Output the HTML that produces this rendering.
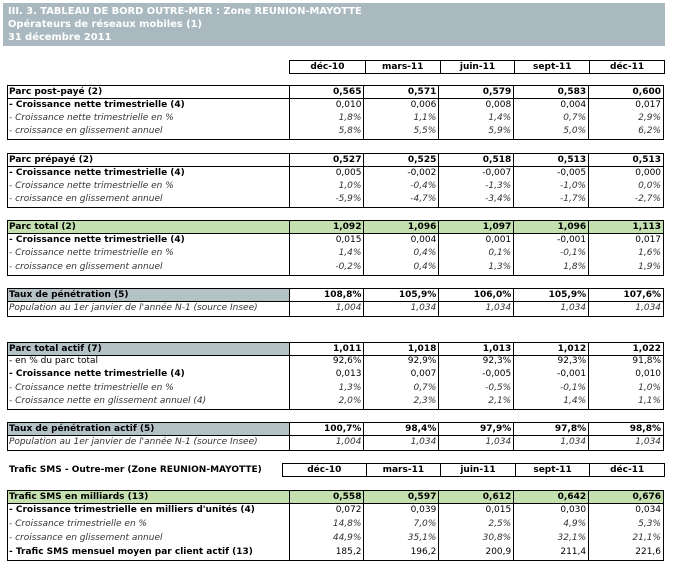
<!DOCTYPE html>
<html><head><meta charset="utf-8"><style>
body{margin:0;width:673px;height:567px;background:#fff;position:relative;overflow:hidden;font-family:"DejaVu Sans","Liberation Sans",sans-serif;font-size:9px;color:#000}
.t{position:absolute;left:3px;top:3px;width:662px;height:43px;background:#a9b9bf;color:#fff;font-weight:bold;font-size:9.9px;line-height:13px;padding-left:5px;box-sizing:border-box;padding-top:2px}
.r{position:absolute;left:7px;width:657px;height:14px;display:flex;border-right:1px solid #000;box-sizing:border-box;line-height:13px}
.r div{box-sizing:border-box;height:100%;white-space:nowrap;overflow:hidden}
.l{width:282px;border-left:1px solid #000;padding-left:1px}
.c{width:75px;border-left:1px solid #000;text-align:right;padding-right:2px}
.b{font-weight:bold;border-top:1.5px solid #000;border-bottom:1.5px solid #000}
.b div{border-left-width:1.5px}
.i{font-style:italic;color:#333}
.e{border-bottom:1.5px solid #000}
.g div{background:#c4dfb0}
.gl .l{background:#b4c2c6}
.h{position:absolute;height:14px;display:flex;font-weight:bold;border:1.5px solid #000;box-sizing:border-box;line-height:12px}
.h div{width:75px;text-align:center;border-left:1px solid #000;box-sizing:border-box}
.h div:first-child{border-left:none}
</style></head><body>
<div class="t">III. 3. TABLEAU DE BORD OUTRE-MER : Zone REUNION-MAYOTTE<br>Opérateurs de réseaux mobiles (1)<br>31 décembre 2011</div>

<div class="h" style="left:289px;top:60px;width:376px"><div>déc-10</div><div>mars-11</div><div>juin-11</div><div>sept-11</div><div>déc-11</div></div>

<div class="r b" style="top:85px"><div class="l">Parc post-payé (2)</div><div class="c">0,565</div><div class="c">0,571</div><div class="c">0,579</div><div class="c">0,583</div><div class="c">0,600</div></div>
<div class="r" style="top:99px;font-weight:bold"><div class="l">- Croissance nette trimestrielle (4)</div><div class="c" style="font-weight:normal">0,010</div><div class="c" style="font-weight:normal">0,006</div><div class="c" style="font-weight:normal">0,008</div><div class="c" style="font-weight:normal">0,004</div><div class="c" style="font-weight:normal">0,017</div></div>
<div class="r i" style="top:112px"><div class="l">- Croissance nette trimestrielle en %</div><div class="c">1,8%</div><div class="c">1,1%</div><div class="c">1,4%</div><div class="c">0,7%</div><div class="c">2,9%</div></div>
<div class="r i e" style="top:125px;height:15px"><div class="l">- croissance en glissement annuel</div><div class="c">5,8%</div><div class="c">5,5%</div><div class="c">5,9%</div><div class="c">5,0%</div><div class="c">6,2%</div></div>

<div class="r b" style="top:153px"><div class="l">Parc prépayé (2)</div><div class="c">0,527</div><div class="c">0,525</div><div class="c">0,518</div><div class="c">0,513</div><div class="c">0,513</div></div>
<div class="r" style="top:167px;font-weight:bold"><div class="l">- Croissance nette trimestrielle (4)</div><div class="c" style="font-weight:normal">0,005</div><div class="c" style="font-weight:normal">-0,002</div><div class="c" style="font-weight:normal">-0,007</div><div class="c" style="font-weight:normal">-0,005</div><div class="c" style="font-weight:normal">0,000</div></div>
<div class="r i" style="top:180px"><div class="l">- Croissance nette trimestrielle en %</div><div class="c">1,0%</div><div class="c">-0,4%</div><div class="c">-1,3%</div><div class="c">-1,0%</div><div class="c">0,0%</div></div>
<div class="r i e" style="top:193px;height:15px"><div class="l">- croissance en glissement annuel</div><div class="c">-5,9%</div><div class="c">-4,7%</div><div class="c">-3,4%</div><div class="c">-1,7%</div><div class="c">-2,7%</div></div>

<div class="r b g" style="top:220px"><div class="l">Parc total (2)</div><div class="c">1,092</div><div class="c">1,096</div><div class="c">1,097</div><div class="c">1,096</div><div class="c">1,113</div></div>
<div class="r" style="top:234px;font-weight:bold"><div class="l">- Croissance nette trimestrielle (4)</div><div class="c" style="font-weight:normal">0,015</div><div class="c" style="font-weight:normal">0,004</div><div class="c" style="font-weight:normal">0,001</div><div class="c" style="font-weight:normal">-0,001</div><div class="c" style="font-weight:normal">0,017</div></div>
<div class="r i" style="top:247px"><div class="l">- Croissance nette trimestrielle en %</div><div class="c">1,4%</div><div class="c">0,4%</div><div class="c">0,1%</div><div class="c">-0,1%</div><div class="c">1,6%</div></div>
<div class="r i e" style="top:261px;height:15px"><div class="l">- croissance en glissement annuel</div><div class="c">-0,2%</div><div class="c">0,4%</div><div class="c">1,3%</div><div class="c">1,8%</div><div class="c">1,9%</div></div>

<div class="r b gl" style="top:288px"><div class="l">Taux de pénétration (5)</div><div class="c">108,8%</div><div class="c">105,9%</div><div class="c">106,0%</div><div class="c">105,9%</div><div class="c">107,6%</div></div>
<div class="r i e" style="top:302px;height:15px"><div class="l">Population au 1er janvier de l'année N-1 (source Insee)</div><div class="c">1,004</div><div class="c">1,034</div><div class="c">1,034</div><div class="c">1,034</div><div class="c">1,034</div></div>

<div class="r b gl" style="top:342px"><div class="l">Parc total actif (7)</div><div class="c">1,011</div><div class="c">1,018</div><div class="c">1,013</div><div class="c">1,012</div><div class="c">1,022</div></div>
<div class="r" style="top:355px"><div class="l">- en % du parc total</div><div class="c">92,6%</div><div class="c">92,9%</div><div class="c">92,3%</div><div class="c">92,3%</div><div class="c">91,8%</div></div>
<div class="r" style="top:368px;font-weight:bold"><div class="l">- Croissance nette trimestrielle (4)</div><div class="c" style="font-weight:normal">0,013</div><div class="c" style="font-weight:normal">0,007</div><div class="c" style="font-weight:normal">-0,005</div><div class="c" style="font-weight:normal">-0,001</div><div class="c" style="font-weight:normal">0,010</div></div>
<div class="r i" style="top:382px"><div class="l">- Croissance nette trimestrielle en %</div><div class="c">1,3%</div><div class="c">0,7%</div><div class="c">-0,5%</div><div class="c">-0,1%</div><div class="c">1,0%</div></div>
<div class="r i e" style="top:395px;height:15px"><div class="l">- Croissance nette en glissement annuel (4)</div><div class="c">2,0%</div><div class="c">2,3%</div><div class="c">2,1%</div><div class="c">1,4%</div><div class="c">1,1%</div></div>

<div class="r b gl" style="top:422px"><div class="l">Taux de pénétration actif (5)</div><div class="c">100,7%</div><div class="c">98,4%</div><div class="c">97,9%</div><div class="c">97,8%</div><div class="c">98,8%</div></div>
<div class="r i e" style="top:436px;height:15px"><div class="l">Population au 1er janvier de l'année N-1 (source Insee)</div><div class="c">1,004</div><div class="c">1,034</div><div class="c">1,034</div><div class="c">1,034</div><div class="c">1,034</div></div>

<div style="position:absolute;left:9px;top:464px;font-weight:bold;line-height:13px">Trafic SMS - Outre-mer (Zone REUNION-MAYOTTE)</div>
<div class="h" style="left:282px;top:463px;width:383px"><div style="width:83px">déc-10</div><div>mars-11</div><div>juin-11</div><div>sept-11</div><div>déc-11</div></div>

<div class="r b g" style="top:490px"><div class="l">Trafic SMS en milliards (13)</div><div class="c">0,558</div><div class="c">0,597</div><div class="c">0,612</div><div class="c">0,642</div><div class="c">0,676</div></div>
<div class="r" style="top:504px;font-weight:bold"><div class="l">- Croissance trimestrielle en milliers d'unités (4)</div><div class="c" style="font-weight:normal">0,072</div><div class="c" style="font-weight:normal">0,039</div><div class="c" style="font-weight:normal">0,015</div><div class="c" style="font-weight:normal">0,030</div><div class="c" style="font-weight:normal">0,034</div></div>
<div class="r i" style="top:518px"><div class="l">- Croissance trimestrielle en %</div><div class="c">14,8%</div><div class="c">7,0%</div><div class="c">2,5%</div><div class="c">4,9%</div><div class="c">5,3%</div></div>
<div class="r i" style="top:532px"><div class="l">- croissance en glissement annuel</div><div class="c">44,9%</div><div class="c">35,1%</div><div class="c">30,8%</div><div class="c">32,1%</div><div class="c">21,1%</div></div>
<div class="r e" style="top:546px;height:15px;font-weight:bold"><div class="l">- Trafic SMS mensuel moyen par client actif (13)</div><div class="c" style="font-weight:normal">185,2</div><div class="c" style="font-weight:normal">196,2</div><div class="c" style="font-weight:normal">200,9</div><div class="c" style="font-weight:normal">211,4</div><div class="c" style="font-weight:normal">221,6</div></div>
</body></html>
